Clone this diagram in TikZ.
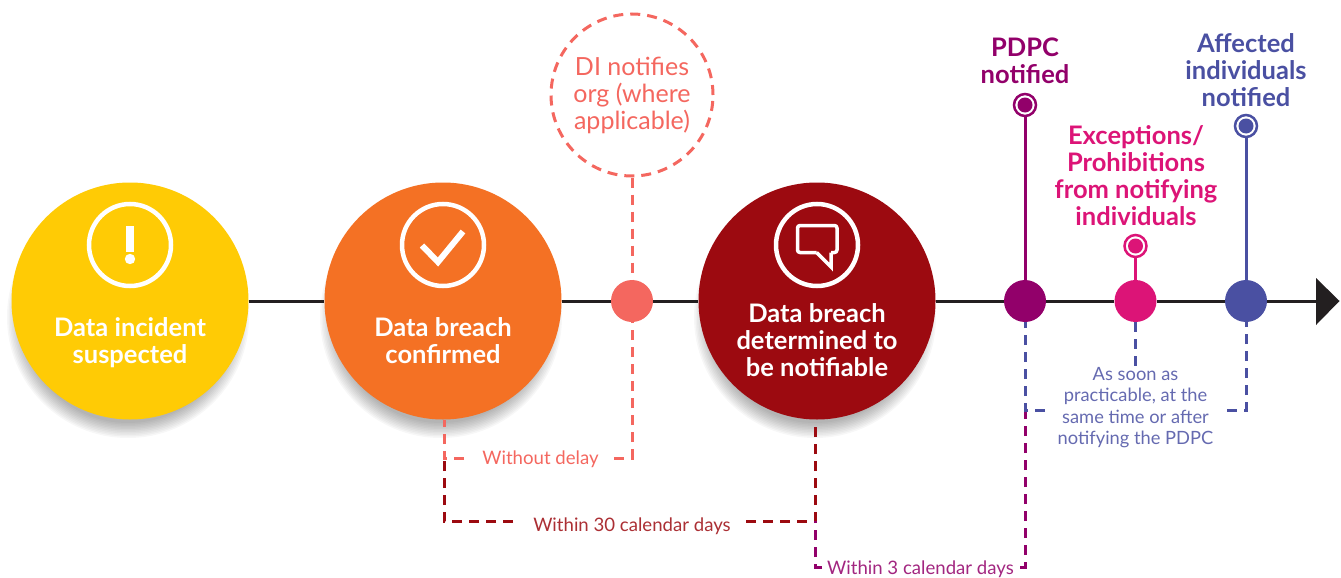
\documentclass[tikz,border=0pt]{standalone}
\usepackage{fontspec}
\setmainfont{Lato}
\newfontfamily\boldf{Lato Bold}
\definecolor{cyellow}{HTML}{FFCB05}
\definecolor{corange}{HTML}{F47124}
\definecolor{cdark}{HTML}{9C0A10}
\definecolor{csalmon}{HTML}{F4675F}
\definecolor{cmag}{HTML}{92006A}
\definecolor{cpink}{HTML}{DC1477}
\definecolor{cblue}{HTML}{4A50A2}
\definecolor{cline}{HTML}{231F20}
\tikzset{
  x=1pt,y=-1pt,
  big/.style={circle,inner sep=0pt,minimum size=237pt,fill=#1},
  small/.style={circle,inner sep=0pt,minimum size=42pt,fill=#1},
  ring/.style={circle,inner sep=0pt,minimum size=82pt,draw=white,line width=4.5pt},
  target/.style={circle,inner sep=0pt,minimum size=15pt,fill=#1},
  targetring/.style={circle,inner sep=0pt,minimum size=22pt,draw=#1,line width=2.5pt,fill=white},
  bigtext/.style={text=white,align=center,font=\boldf\fontsize{25.5}{27}\selectfont},
  head/.style={text=#1,align=center,font=\boldf\fontsize{25.5}{27}\selectfont},
  note/.style={text=#1,font=\fontsize{18.6}{22}\selectfont,inner xsep=0pt,inner ysep=0pt},
  dash line/.style={draw=#1,line width=3pt,dash pattern=on 10pt off 7pt},
  axis line/.style={draw=cline,line width=3pt},
  stem/.style={draw=#1,line width=3pt},
}
\begin{document}
\begin{tikzpicture}
\useasboundingbox (0,0) rectangle (1341,578);
% shadows
\foreach \cx in {130,443,817}{
  \foreach \r in {106,107.5,...,122}{
    \fill[black,opacity=.032] (\cx-2,317) circle (\r);
  }
}
% main circles
\node[big=cyellow] (c1) at (130,301) {};
\node[big=corange] (c2) at (443,301) {};
\node[big=cdark]   (c3) at (817,301) {};
\node[small=csalmon] (s1) at (632,301) {};
\node[small=cmag]  (p) at (1025,301) {};
\node[small=cpink] (q) at (1135.5,301) {};
\node[small=cblue] (b) at (1246,301) {};
% axis
\coordinate (tipbase) at (1316,301);
\coordinate (tipup) at (1316,278);
\coordinate (tipdown) at (1316,325);
\coordinate (tip) at (1339.5,301);
\draw[axis line] (c1) -- (c2);
\draw[axis line] (c2) -- (s1);
\draw[axis line] (s1) -- (c3);
\draw[axis line] (c3) -- (p);
\draw[axis line] (p) -- (q);
\draw[axis line] (q) -- (b);
\draw[axis line] (b) -- (tipbase);
\fill[cline] (tipup) -- (tip) -- (tipdown) -- cycle;
% icons
\node[ring] (i1) at (130,245) {};
\node[ring] (i2) at (443,245) {};
\node[ring] (i3) at (817,245) {};
\fill[white] (125.7,226) rectangle (134.2,252);
\fill[white] (130,259) circle (5.2);
\draw[white,line width=6pt,miter limit=10] (422,245.5) -- (438,262) -- (463,231.5);
\draw[white,line width=3.5pt,line join=round,rounded corners=2.5pt]
  (816.7,252.5) -- (797.5,252.5) -- (797.5,225.5) -- (837,225.5) -- (837,252.5) -- (831,252.5);
\draw[white,line width=3.5pt,line join=miter] (816.7,252.5) -- (831,267) -- (831,252.5);
% big labels
\node[bigtext] (t1) at (130,342.5) {Data incident\\suspected};
\node[bigtext] (t2) at (443,340.5) {Data breach\\confirmed};
\node[bigtext] (t3) at (817,340.5) {Data breach\\determined to\\be notifiable};
% DI bubble
\node[circle,inner sep=0pt,minimum size=162pt,dash line=csalmon,
  text=csalmon,align=center,font=\fontsize{25}{27}\selectfont] (di) at (632,95)
  {DI notifies\\org (where\\applicable)};
\draw[dash line=csalmon] (di.south) -- (s1.north);
% targets
\node[targetring=cmag] (tp0) at (1025,105) {};
\node[target=cmag] (tp) at (1025,105) {};
\node[targetring=cpink] (tq0) at (1135.5,246) {};
\node[target=cpink] (tq) at (1135.5,246) {};
\node[targetring=cblue] (tb0) at (1246,126) {};
\node[target=cblue] (tb) at (1246,126) {};
\draw[stem=cmag] (tp0) -- (p);
\draw[stem=cpink] (tq0) -- (q);
\draw[stem=cblue] (tb0) -- (b);
\node[head=cmag] (hp) at (1025,61) {PDPC\\notified};
\node[head=cpink] (hq) at (1136,176) {Exceptions/\\Prohibitions\\from notifying\\individuals};
\node[head=cblue] (hb) at (1246,70) {Affected\\individuals\\notified};
% notes
\node[note=csalmon] (wd) at (540.5,459.5) {Without delay};
\node[note=cdark!85] (w30) at (632,526.5) {Within 30 calendar days};
\node[note=cmag!85] (w3) at (920.5,569) {Within 3 calendar days};
\node[note=cblue!85,align=center,font=\fontsize{18.3}{21.5}\selectfont] (asap) at (1135.5,407.5)
  {As soon as\\practicable, at the\\same time or after\\notifying the PDPC};
% corners
\coordinate (a1) at (444,458);
\coordinate (a2) at (632,458);
\coordinate (b1) at (444,521);
\coordinate (b2) at (815,521);
\coordinate (top2) at (444,420);
\coordinate (top3) at (815,420);
\coordinate (d1) at (815,567);
\coordinate (d2) at (1025,567);
\coordinate (e1) at (1025,410);
\coordinate (e2) at (1246,410);
\coordinate (wdl) at (464,458);
\coordinate (wdr) at (614,458);
\coordinate (w30l) at (513,521);
\coordinate (w30r) at (746,521);
\coordinate (w3l) at (822,567);
\coordinate (w3r) at (1020,567);
\coordinate (el) at (1045,410);
\coordinate (er) at (1227,410);
% dashed connectors
\draw[dash line=csalmon] (wdl) -- (a1) -- (top2);
\draw[dash line=csalmon] (wdr) -- (a2) -- (s1.south);
\draw[dash line=cdark] (w30l) -- (b1) -- (a1);
\draw[dash line=cdark] (w30r) -- (b2) -- (top3);
\draw[dash line=cmag] (w3l) -- (d1) -- (b2);
\draw[dash line=cmag] (w3r) -- (d2) -- (e1);
\draw[dash line=cblue] (el) -- (e1) -- (p.south);
\draw[dash line=cblue] (er) -- (e2) -- (b.south);
\draw[dash line=cblue] (q.south) -- (asap.north);
\end{tikzpicture}
\end{document}
